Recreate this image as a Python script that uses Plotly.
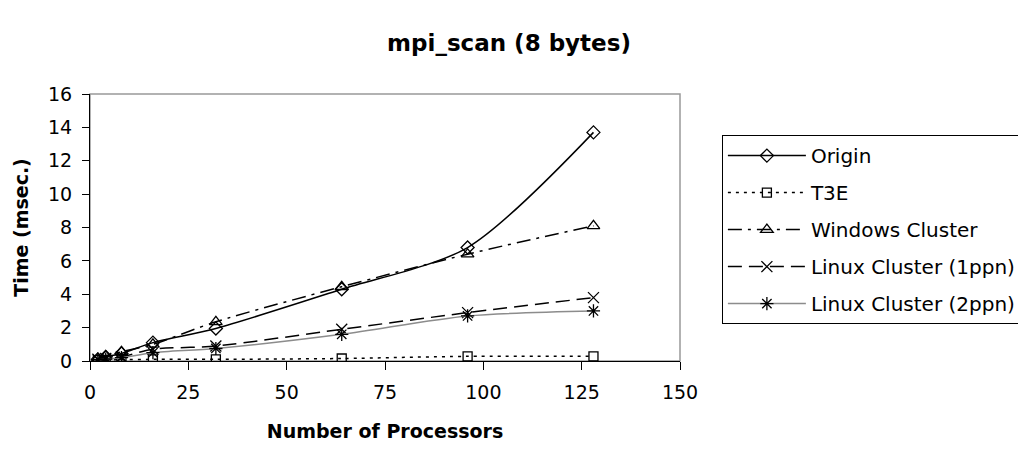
import plotly.graph_objects as go

procs = [2, 4, 8, 16, 32, 64, 96, 128]
origin = [0.1, 0.25, 0.45, 1.1, 1.95, 4.3, 6.8, 13.7]
t3e = [0.05, 0.06, 0.08, 0.1, 0.1, 0.15, 0.28, 0.28]
windows = [0.15, 0.3, 0.55, 1.0, 2.35, 4.45, 6.4, 8.1]
linux1 = [0.1, 0.15, 0.25, 0.7, 0.9, 1.9, 2.9, 3.8]
linux2 = [0.08, 0.12, 0.2, 0.5, 0.75, 1.6, 2.7, 3.0]

names = ["Origin", "T3E", "Windows Cluster", "Linux Cluster (1ppn)", "Linux Cluster (2ppn)"]
series = [origin, t3e, windows, linux1, linux2]
symbols = ["diamond-open", "square-open", "triangle-up-open", "x-thin-open", "asterisk-open"]
dashes = ["solid", "3px,5px", "14px,6px,3px,6px", "14px,7px", "solid"]
line_colors = ["black", "black", "black", "black", "#8c8c8c"]
marker_sizes = [10, 9, 11, 11, 11]

FONT = "DejaVu Sans, Liberation Sans, Arial, sans-serif"

fig = go.Figure()
for i, (name, ys, sym, dash, lc, ms) in enumerate(zip(names, series, symbols, dashes, line_colors, marker_sizes)):
    fig.add_trace(go.Scatter(
        x=procs, y=ys, name=name, mode="lines+markers", legendgroup=f"g{i}",
        line=dict(color=lc, width=1.5, dash=dash, shape="spline", smoothing=0.8),
        marker=dict(symbol=sym, size=ms, color="black", line=dict(color="black", width=1.3)),
    ))

fig.add_shape(type="rect", xref="paper", yref="paper", x0=0, y0=0, x1=1, y1=1,
              line=dict(color="#999999", width=1.5), layer="below")

fig.update_layout(
    width=1018, height=450,
    margin=dict(l=90, r=338, t=94, b=89, autoexpand=False),
    paper_bgcolor="white", plot_bgcolor="white",
    font=dict(family=FONT, size=19, color="black"),
    title=dict(text="<b>mpi_scan (8 bytes)</b>", x=0.5, xanchor="center", y=0.905, yanchor="middle",
               font=dict(size=23, family=FONT)),
    xaxis=dict(range=[0, 150], tickvals=[0, 25, 50, 75, 100, 125, 150], showgrid=False, zeroline=False,
               showline=True, linecolor="black", linewidth=1.2, ticks="outside", ticklen=8,
               tickcolor="black", ticklabelstandoff=6, automargin=False,
               title=dict(text="<b>Number of Processors</b>", font=dict(size=19, family=FONT), standoff=22)),
    yaxis=dict(range=[0, 16], tickvals=list(range(0, 17, 2)), showgrid=False, zeroline=False,
               showline=True, linecolor="black", linewidth=1.2, ticks="outside", ticklen=7,
               tickcolor="black", ticklabelstandoff=6, automargin=False,
               title=dict(text="<b>Time (msec.)</b>", font=dict(size=19, family=FONT), standoff=14)),
    legend=dict(x=1.071, y=0.846, xanchor="left", yanchor="top", bordercolor="black", borderwidth=1,
                bgcolor="white", font=dict(size=20, family=FONT), itemwidth=78, tracegroupgap=8),
    showlegend=True,
)

fig.write_html("out.html")
